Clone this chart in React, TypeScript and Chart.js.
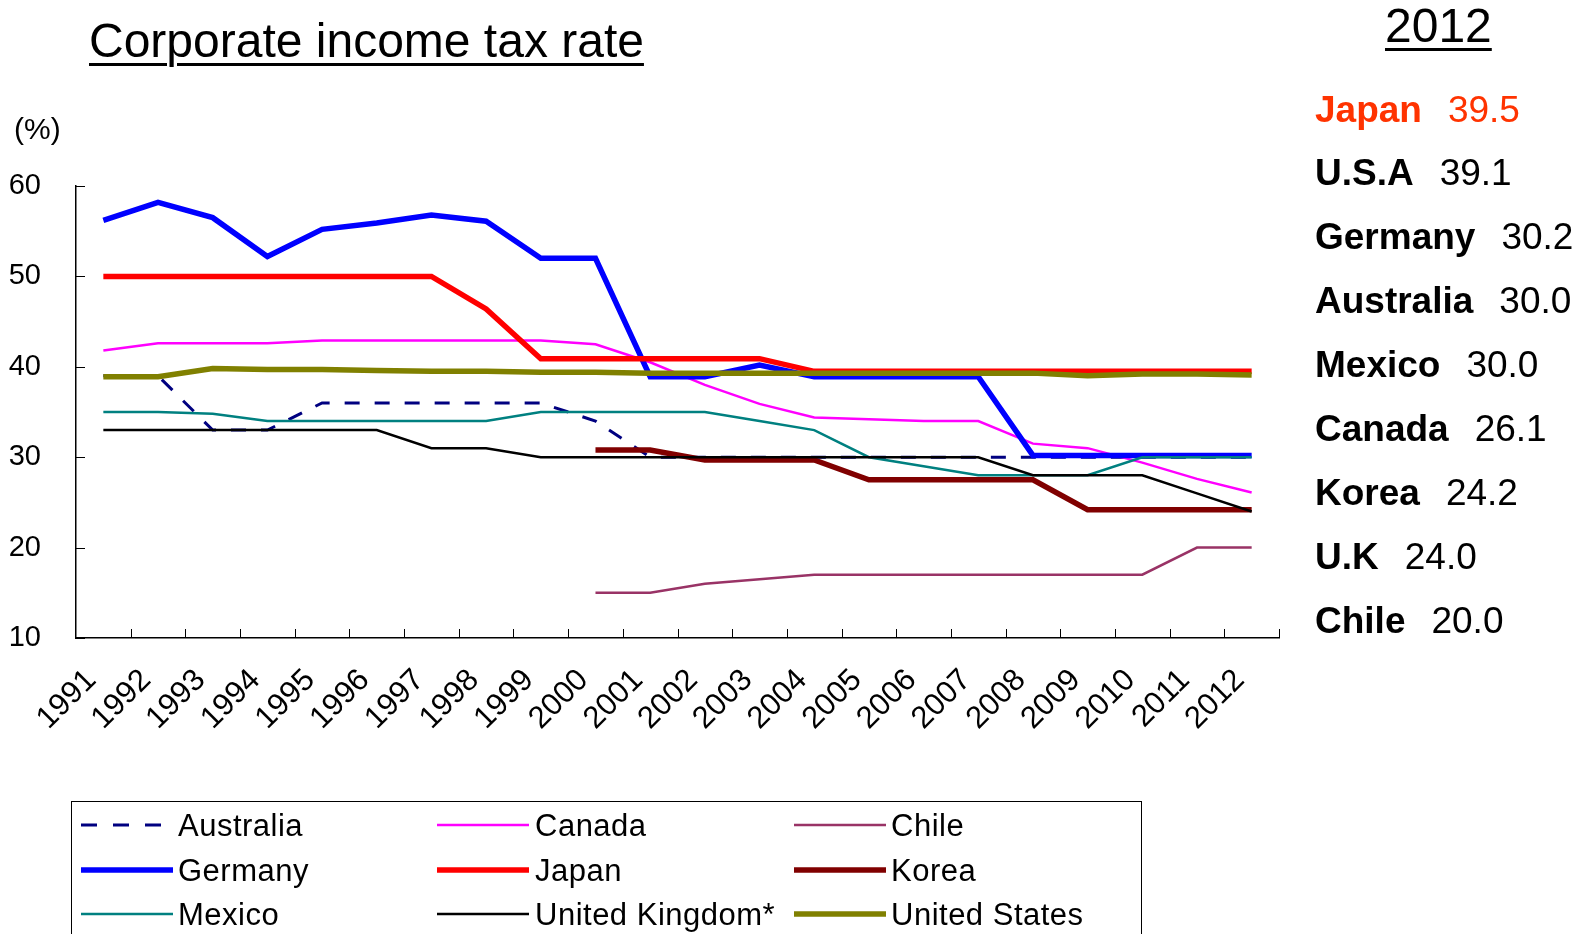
import React, { useEffect, useRef } from "react";
import { Chart, registerables } from "chart.js";

Chart.register(...registerables);

// ---- data ----
const years = ["1991","1992","1993","1994","1995","1996","1997","1998","1999","2000","2001","2002","2003","2004","2005","2006","2007","2008","2009","2010","2011","2012"];
const yTicks = [10, 20, 30, 40, 50, 60];

const australia = [39,39,33,33,36,36,36,36,36,34,30,30,30,30,30,30,30,30,30,30,30,30];
const canada = [41.8,42.6,42.6,42.6,42.9,42.9,42.9,42.9,42.9,42.5,40.5,38.0,35.9,34.4,34.2,34.0,34.0,31.5,31.0,29.4,27.6,26.1];
const chile = [null,null,null,null,null,null,null,null,null,15,15,16,16.5,17,17,17,17,17,17,17,20,20];
const germany = [56.2,58.2,56.5,52.2,55.2,55.9,56.8,56.1,52.0,52.0,38.9,38.9,40.2,38.9,38.9,38.9,38.9,30.2,30.2,30.2,30.2,30.2];
const japan = [50,50,50,50,50,50,50,46.4,40.9,40.9,40.9,40.9,40.9,39.5,39.5,39.5,39.5,39.5,39.5,39.5,39.5,39.5];
const korea = [null,null,null,null,null,null,null,null,null,30.8,30.8,29.7,29.7,29.7,27.5,27.5,27.5,27.5,24.2,24.2,24.2,24.2];
const mexico = [35,35,34.8,34,34,34,34,34,35,35,35,35,34,33,30,29,28,28,28,30,30,30];
const unitedKingdom = [33,33,33,33,33,33,31,31,30,30,30,30,30,30,30,30,30,28,28,28,26,24];
const unitedStates = [38.9,38.9,39.8,39.7,39.7,39.6,39.5,39.5,39.4,39.4,39.3,39.3,39.3,39.3,39.3,39.3,39.3,39.3,39.0,39.2,39.2,39.1];

const summaryNames = ["Japan","U.S.A","Germany","Australia","Mexico","Canada","Korea","U.K","Chile"];
const summaryValues = ["39.5","39.1","30.2","30.0","30.0","26.1","24.2","24.0","20.0"];

type S = { label: string; data: (number | null)[]; color: string; width: number; dash?: number[] };
const series: S[] = [
  { label: "Australia", data: australia, color: "#000080", width: 3, dash: [15, 15] },
  { label: "Canada", data: canada, color: "#FF00FF", width: 2.5 },
  { label: "Chile", data: chile, color: "#993366", width: 2.5 },
  { label: "Germany", data: germany, color: "#0000FF", width: 5.5 },
  { label: "Japan", data: japan, color: "#FF0000", width: 5.5 },
  { label: "Korea", data: korea, color: "#800000", width: 5.5 },
  { label: "Mexico", data: mexico, color: "#008080", width: 2.5 },
  { label: "United Kingdom*", data: unitedKingdom, color: "#000000", width: 2.5 },
  { label: "United States", data: unitedStates, color: "#808000", width: 5.5 },
];

const FONT = "'Liberation Sans', Arial, Helvetica, sans-serif";

const innerTicks = {
  id: "innerTicks",
  afterDraw(chart: any) {
    const { ctx, chartArea, scales } = chart;
    const xs = scales.x;
    const ys = scales.y;
    ctx.save();
    ctx.strokeStyle = "#000";
    ctx.lineWidth = 1;
    const step = xs.getPixelForValue(1) - xs.getPixelForValue(0);
    for (let i = 0; i < years.length; i++) {
      const px = Math.round(xs.getPixelForValue(i) + step / 2) + 0.5;
      ctx.beginPath();
      ctx.moveTo(px, chartArea.bottom);
      ctx.lineTo(px, chartArea.bottom - 9);
      ctx.stroke();
    }
    yTicks.forEach((v) => {
      const py = Math.round(ys.getPixelForValue(v)) + 0.5;
      ctx.beginPath();
      ctx.moveTo(chartArea.left, py);
      ctx.lineTo(chartArea.left + 9, py);
      ctx.stroke();
    });
    ctx.restore();
  },
};

function LegendSample({ s }: { s: S }) {
  return (
    <svg width={92} height={10} style={{ display: "block" }}>
      <line x1={0} y1={5} x2={92} y2={5} stroke={s.color} strokeWidth={s.width}
        strokeDasharray={s.dash ? "16 16" : undefined} />
    </svg>
  );
}

export default function App() {
  const ref = useRef<HTMLCanvasElement | null>(null);

  useEffect(() => {
    if (!ref.current) return;
    const chart = new Chart(ref.current, {
      type: "line",
      data: {
        labels: years,
        datasets: series.map((s, i) => ({
          label: s.label,
          data: s.data,
          borderColor: s.color,
          backgroundColor: s.color,
          borderWidth: s.width,
          borderDash: s.dash || [],
          pointRadius: 0,
          pointHoverRadius: 0,
          tension: 0,
          fill: false,
          spanGaps: false,
          order: series.length - i,
        })),
      },
      options: {
        responsive: false,
        animation: false,
        devicePixelRatio: 1,
        layout: { padding: { left: 0, top: 186, right: 312, bottom: 196 } },
        plugins: { legend: { display: false }, tooltip: { enabled: false }, title: { display: false } },
        scales: {
          x: {
            offset: true,
            grid: { display: true, drawOnChartArea: false, drawTicks: false },
            border: { display: true, color: "#000", width: 1.5 },
            ticks: {
              autoSkip: false,
              maxRotation: 45,
              minRotation: 45,
              padding: 24,
              labelOffset: -12,
              color: "#000",
              font: { family: FONT, size: 31 },
            },
            afterFit: (sc: any) => { sc.height = 100; },
          },
          y: {
            min: 10,
            max: 60,
            grid: { display: true, drawOnChartArea: false, drawTicks: false },
            border: { display: true, color: "#000", width: 1.5 },
            ticks: {
              stepSize: 10,
              padding: 35,
              color: "#000",
              font: { family: FONT, size: 29 },
            },
            afterFit: (sc: any) => { sc.width = 76; },
          },
        },
      },
      plugins: [innerTicks],
    });
    return () => chart.destroy();
  }, []);

  const legendCols = [178, 535, 891];
  const lineCols = [81, 437, 794];
  const rowBaselines = [836, 881, 925];

  return (
    <div style={{ position: "absolute", left: 0, top: 0, width: 1591, height: 934, overflow: "hidden", background: "#fff", fontFamily: FONT, color: "#000" }}>
      <canvas ref={ref} width={1591} height={934} style={{ position: "absolute", left: 0, top: 0, width: 1591, height: 934 }} />
      <div style={{ position: "absolute", left: 89, top: 17, fontSize: 48, lineHeight: "48px", whiteSpace: "nowrap", textDecoration: "underline", textDecorationThickness: "3px", textUnderlineOffset: "6px" }}>
        Corporate income tax rate
      </div>
      <div style={{ position: "absolute", left: 14, top: 114, fontSize: 30, lineHeight: "30px" }}>(%)</div>
      <div style={{ position: "absolute", left: 1385, top: 2, fontSize: 48, lineHeight: "48px", textDecoration: "underline", textDecorationThickness: "3px", textUnderlineOffset: "6px" }}>2012</div>
      {summaryNames.map((n, i) => (
        <div key={n} style={{ position: "absolute", left: 1315, top: 122 - 31.5 + i * 63.9, fontSize: 37, lineHeight: "37px", whiteSpace: "nowrap", color: i === 0 ? "#FF3300" : "#000" }}>
          <span style={{ fontWeight: "bold" }}>{n}</span>
          <span style={{ marginLeft: 26 }}>{summaryValues[i]}</span>
        </div>
      ))}
      <div style={{ position: "absolute", left: 71, top: 801, width: 1071, height: 200, border: "1.5px solid #000", boxSizing: "border-box" }} />
      {series.map((s, i) => {
        const col = i % 3;
        const row = Math.floor(i / 3);
        const base = rowBaselines[row];
        return (
          <React.Fragment key={s.label}>
            <div style={{ position: "absolute", left: lineCols[col], top: base - 16, width: 92, height: 10 }}>
              <LegendSample s={s} />
            </div>
            <div style={{ position: "absolute", left: legendCols[col], top: base - 26, fontSize: 31, lineHeight: "31px", whiteSpace: "nowrap", letterSpacing: "0.5px" }}>
              {s.label}
            </div>
          </React.Fragment>
        );
      })}
    </div>
  );
}
